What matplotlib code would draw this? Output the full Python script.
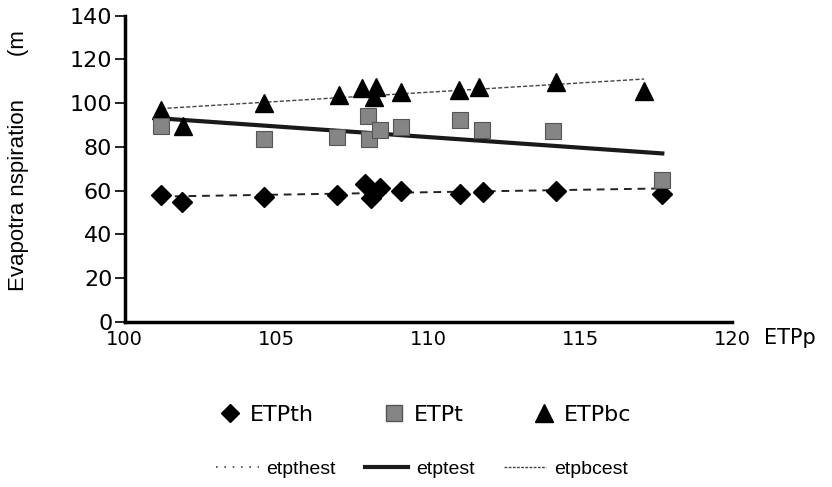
import numpy as np
import matplotlib.pyplot as plt
from matplotlib.lines import Line2D

NARROW = ['Liberation Sans Narrow', 'DejaVu Sans']
REG = ['Liberation Sans', 'DejaVu Sans']

# ETPth (diamonds)
x_th = [101.2, 101.9, 104.6, 107.0, 107.9, 108.1, 108.4, 109.1, 111.05, 111.8, 114.2, 117.7]
y_th = [58.0, 54.6, 56.9, 58.0, 63.0, 56.5, 61.0, 60.0, 58.4, 59.5, 60.0, 58.4]

# ETPt (squares)
x_t = [101.2, 104.57, 107.0, 108.0, 108.04, 108.4, 109.1, 111.05, 111.77, 114.1, 117.7]
y_t = [89.5, 83.4, 84.6, 94.0, 83.4, 87.7, 89.2, 92.5, 87.7, 87.4, 64.8]

# ETPbc (triangles)
x_bc = [101.2, 101.93, 104.57, 107.05, 107.82, 108.26, 108.2, 109.1, 111.0, 111.68, 114.2, 117.1]
y_bc = [97.0, 89.5, 100.1, 103.6, 106.7, 107.4, 102.6, 105.2, 106.2, 107.4, 109.7, 105.5]

# estimated trend lines (ends)
x_thest = [101.2, 117.7]
y_thest = [57.3, 61.0]
x_test = [101.2, 117.7]
y_test = [93.0, 77.0]
x_bcest = [101.2, 117.1]
y_bcest = [97.5, 111.0]

xticks = [100, 105, 110, 115, 120]
yticks = [0, 20, 40, 60, 80, 100, 120, 140]

fig = plt.figure(figsize=(8.32, 4.87), dpi=100)
ax = fig.add_axes([0.150, 0.339, 0.730, 0.629])

ax.plot(x_thest, y_thest, color='#222222', lw=1.4, ls=(0, (4, 3)), zorder=2)
ax.plot(x_test, y_test, color='#1a1a1a', lw=3.0, zorder=2)
ax.plot(x_bcest, y_bcest, color='#444444', lw=1.0, ls=(0, (3, 1.5)), zorder=2)

ax.plot(x_th, y_th, 'D', color='black', ms=10, ls='none', zorder=3)
ax.plot(x_t, y_t, 's', color='#858585', mec='#555555', mew=0.8, ms=12, ls='none', zorder=4)
ax.plot(x_bc, y_bc, '^', color='black', ms=13, ls='none', zorder=3)

ax.set_xlim(100, 120)
ax.set_ylim(0, 140)
ax.set_xticks(xticks)
ax.set_yticks(yticks)
ax.set_xticklabels([str(v) for v in xticks], family=NARROW, fontsize=14)
ax.set_yticklabels([str(v) for v in yticks], family=NARROW, fontsize=16)
ax.tick_params(axis='x', length=0, pad=6)
ax.tick_params(axis='y', direction='out', length=7, width=1.2, pad=2)
for s in ['top', 'right']:
    ax.spines[s].set_visible(False)
ax.spines['left'].set_linewidth(2.5)
ax.spines['bottom'].set_linewidth(2.5)

ax.set_ylabel('Evapotra nspiration       (m', family=REG, fontsize=16)
ax.yaxis.set_label_coords(-0.158, 0.528)
fig.text(790 / 832, 1 - 338 / 487, 'ETPp', family=NARROW, fontsize=15,
         ha='center', va='center')

h1 = [Line2D([], [], marker='D', color='black', ls='none', ms=9),
      Line2D([], [], marker='s', color='#858585', mec='#555555', ls='none', ms=11),
      Line2D([], [], marker='^', color='black', ls='none', ms=13)]
leg1 = fig.legend(h1, ['ETPth', 'ETPt', 'ETPbc'], loc='center',
                  bbox_to_anchor=(425 / 832, 1 - 415 / 487), ncol=3, frameon=False,
                  prop={'family': NARROW, 'size': 16},
                  handlelength=1.0, handletextpad=0.4, columnspacing=3.1)

h2 = [Line2D([], [], color='#444444', lw=1.2, ls=(0, (1, 4))),
      Line2D([], [], color='#1a1a1a', lw=3.0),
      Line2D([], [], color='#444444', lw=1.0, ls=(0, (2, 1)))]
leg2 = fig.legend(h2, ['etpthest', 'etptest', 'etpbcest'], loc='center',
                  bbox_to_anchor=(422 / 832, 1 - 469 / 487), ncol=3, frameon=False,
                  prop={'family': REG, 'size': 14}, handlelength=2.2,
                  handletextpad=0.4, columnspacing=1.5)

fig.savefig('out.png', dpi=100)
